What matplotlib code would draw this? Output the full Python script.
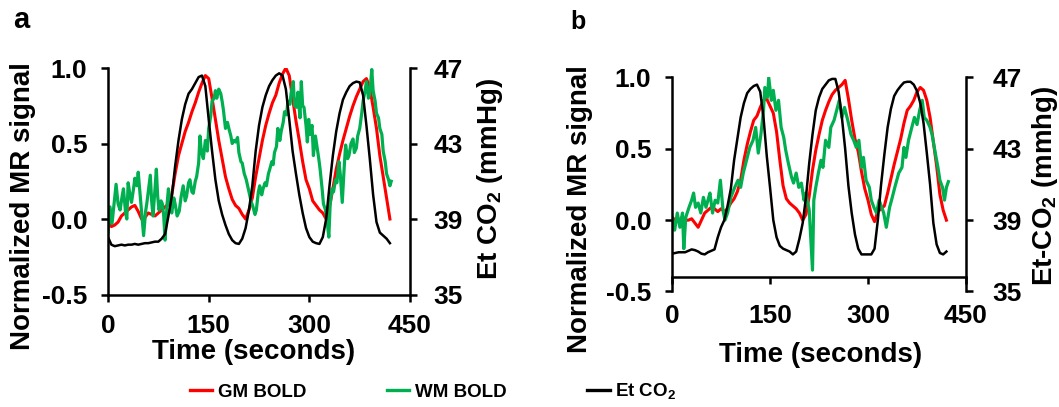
import matplotlib.pyplot as plt
from matplotlib.ticker import FormatStrFormatter

plt.rcParams["font.family"] = "Liberation Sans"
plt.rcParams["font.weight"] = "bold"
plt.rcParams["axes.unicode_minus"] = False
plt.rcParams["mathtext.fontset"] = "custom"
plt.rcParams["mathtext.rm"] = "Liberation Sans:bold"
plt.rcParams["mathtext.bf"] = "Liberation Sans:bold"

# sampling grid (seconds) for the smooth traces
time_5s = list(range(0, 425, 5))

# ---- panel a ----
gm_bold_a = [0.07, -0.05, -0.04, -0.02, 0.02, 0.04, 0.06, 0.08, 0.09, 0.05,
             0.00, 0.01, 0.04, 0.03, 0.02, 0.04, 0.06, 0.08, 0.10, 0.16,
             0.30, 0.42, 0.50, 0.58, 0.64, 0.71, 0.77, 0.84, 0.90, 0.95,
             0.93, 0.80, 0.66, 0.52, 0.40, 0.28, 0.20, 0.13, 0.09, 0.07,
             0.03, 0.00, 0.06, 0.14, 0.28, 0.40, 0.52, 0.62, 0.70, 0.77,
             0.82, 0.90, 0.96, 1.00, 0.95, 0.80, 0.65, 0.52, 0.38, 0.26,
             0.20, 0.12, 0.09, 0.06, 0.04, 0.00, 0.08, 0.20, 0.33, 0.43,
             0.52, 0.60, 0.68, 0.75, 0.81, 0.86, 0.91, 0.93, 0.87, 0.74,
             0.60, 0.42, 0.28, 0.14, 0.00]

wm_time_a = [0, 3, 6, 9, 12, 15, 18, 21, 23, 26, 28, 30, 33, 35, 38, 40, 43, 45,
             48, 50, 53, 56, 58, 61, 63, 65, 67, 70, 72, 74, 76, 79, 81, 83, 85,
             88, 90, 93, 95, 98, 100, 103, 106, 109, 112, 115, 117, 120, 122,
             125, 127, 130, 132, 135, 137, 139, 142, 145, 148, 150, 153, 155,
             158, 160, 162, 165, 168, 170, 172, 175, 178, 180, 183, 185, 188,
             190, 193, 195, 198, 200, 203, 206, 208, 211, 213, 216, 219, 221,
             224, 226, 229, 231, 234, 236, 239, 241, 244, 246, 248, 251, 253,
             256, 258, 261, 263, 266, 268, 271, 273, 276, 278, 281, 283, 286,
             288, 290, 292, 295, 297, 299, 301, 304, 306, 309, 311, 314, 316,
             319, 321, 324, 326, 329, 331, 334, 336, 339, 341, 344, 346, 349,
             352, 354, 357, 359, 362, 365, 367, 370, 372, 375, 378, 380, 383,
             385, 388, 390, 393, 395, 398, 400, 403, 405, 408, 410, 413, 415,
             418, 420, 422]
wm_bold_a = [-0.09, 0.08, -0.03, 0.10, 0.23, 0.10, 0.06, 0.15, 0.20, 0.05, 0.00,
             0.24, 0.15, 0.11, 0.20, 0.27, 0.22, 0.31, 0.15, 0.04, -0.11, 0.05,
             0.11, 0.22, 0.29, 0.12, 0.02, 0.20, 0.33, 0.15, 0.06, 0.12, 0.10,
             0.02, -0.14, 0.10, 0.20, 0.08, 0.04, 0.14, 0.10, 0.02, 0.05, 0.15,
             0.22, 0.12, 0.15, 0.24, 0.26, 0.18, 0.17, 0.25, 0.28, 0.37, 0.55,
             0.45, 0.40, 0.52, 0.45, 0.60, 0.68, 0.78, 0.80, 0.85, 0.80, 0.86,
             0.83, 0.78, 0.72, 0.60, 0.64, 0.60, 0.55, 0.50, 0.52, 0.51, 0.54,
             0.44, 0.38, 0.37, 0.30, 0.26, 0.22, 0.16, 0.12, 0.08, 0.03, 0.06,
             0.18, 0.22, 0.16, 0.20, 0.24, 0.22, 0.30, 0.33, 0.38, 0.36, 0.44,
             0.48, 0.60, 0.52, 0.58, 0.64, 0.71, 0.69, 0.78, 0.76, 0.84, 0.91,
             0.75, 0.74, 0.84, 0.67, 0.91, 0.75, 0.74, 0.62, 0.51, 0.66, 0.56,
             0.62, 0.42, 0.55, 0.49, 0.40, 0.33, 0.20, 0.10, 0.06, 0.00, -0.12,
             0.10, 0.20, 0.18, 0.26, 0.24, 0.38, 0.30, 0.11, 0.35, 0.49, 0.40,
             0.42, 0.50, 0.53, 0.44, 0.47, 0.55, 0.60, 0.70, 0.78, 0.85, 0.91,
             0.80, 0.83, 0.99, 0.85, 0.78, 0.70, 0.67, 0.60, 0.56, 0.45, 0.38,
             0.30, 0.26, 0.22, 0.25]

et_co2_a = [38.04, 37.64, 37.56, 37.60, 37.64, 37.60, 37.64, 37.64, 37.68, 37.64,
            37.68, 37.72, 37.72, 37.76, 37.80, 37.80, 37.96, 38.20, 39.16, 40.20,
            41.80, 43.16, 44.28, 45.08, 45.64, 45.88, 46.20, 46.52, 46.60, 46.04,
            44.28, 42.60, 41.08, 39.96, 39.24, 38.68, 38.20, 37.88, 37.72, 37.68,
            37.96, 38.52, 39.48, 40.76, 42.60, 43.96, 44.92, 45.56, 46.04, 46.36,
            46.60, 46.72, 46.60, 45.88, 44.28, 42.60, 41.40, 40.28, 39.32, 38.52,
            38.04, 37.80, 37.72, 37.68, 38.04, 39.00, 40.76, 42.36, 43.64, 44.60,
            45.32, 45.72, 46.04, 46.20, 46.28, 46.24, 45.56, 43.96, 42.20, 40.28,
            38.84, 38.28, 38.12, 37.96, 37.72]

# ---- panel b ----
gm_bold_b = [0.02, 0.00, -0.01, 0.02, 0.00, 0.00, 0.01, -0.02, -0.05, 0.00,
             0.05, 0.07, 0.09, 0.08, 0.06, 0.08, 0.06, 0.08, 0.12, 0.15,
             0.20, 0.28, 0.42, 0.53, 0.62, 0.70, 0.73, 0.79, 0.84, 0.85,
             0.80, 0.75, 0.62, 0.42, 0.24, 0.15, 0.12, 0.10, 0.08, 0.05,
             0.00, 0.04, 0.17, 0.35, 0.49, 0.60, 0.70, 0.77, 0.83, 0.88,
             0.91, 0.93, 0.95, 0.98, 0.85, 0.70, 0.57, 0.48, 0.34, 0.22,
             0.14, 0.04, -0.01, 0.06, 0.08, 0.10, 0.19, 0.29, 0.39, 0.48,
             0.57, 0.68, 0.77, 0.80, 0.84, 0.90, 0.93, 0.91, 0.84, 0.72,
             0.55, 0.38, 0.18, 0.07, 0.00]

wm_time_b = [0, 4, 8, 12, 16, 18, 21, 26, 30, 33, 36, 40, 44, 48, 52, 55, 58, 62,
             66, 70, 74, 78, 81, 85, 90, 96, 101, 105, 109, 114, 119, 124, 128,
             132, 136, 140, 142, 146, 148, 152, 155, 159, 163, 167, 171, 174,
             178, 183, 186, 190, 194, 198, 202, 205, 210, 215, 217, 220, 224,
             228, 231, 235, 240, 243, 248, 252, 256, 260, 264, 269, 274, 278,
             282, 286, 290, 293, 297, 302, 305, 309, 313, 317, 321, 324, 328,
             333, 336, 341, 347, 352, 355, 358, 362, 367, 371, 375, 379, 383,
             386, 390, 395, 398, 403, 407, 410, 414, 417, 420, 423]
wm_bold_b = [0.02, -0.07, 0.05, -0.05, 0.05, -0.20, 0.02, 0.09, 0.14, 0.19, 0.09,
             0.12, 0.05, 0.16, 0.09, 0.14, 0.19, 0.05, 0.14, 0.12, 0.28, 0.07,
             0.00, 0.05, 0.16, 0.23, 0.28, 0.23, 0.33, 0.42, 0.51, 0.56, 0.65,
             0.47, 0.60, 0.77, 0.93, 0.86, 1.00, 0.84, 0.91, 0.77, 0.84, 0.65,
             0.58, 0.49, 0.40, 0.30, 0.26, 0.33, 0.23, 0.26, 0.14, 0.19, 0.07,
             -0.35, 0.14, 0.23, 0.33, 0.42, 0.37, 0.56, 0.51, 0.65, 0.70, 0.77,
             0.84, 0.72, 0.79, 0.70, 0.60, 0.56, 0.51, 0.56, 0.37, 0.44, 0.28,
             0.23, 0.14, 0.09, 0.05, 0.14, 0.09, 0.05, -0.05, 0.09, 0.14, 0.23,
             0.33, 0.37, 0.51, 0.44, 0.56, 0.65, 0.72, 0.67, 0.77, 0.84, 0.72,
             0.70, 0.65, 0.60, 0.47, 0.37, 0.28, 0.23, 0.14, 0.23, 0.27]

et_co2_b = [37.12, 37.16, 37.20, 37.20, 37.20, 37.28, 37.36, 37.32, 37.24, 37.12,
            37.08, 37.20, 37.28, 37.36, 38.04, 38.60, 39.00, 39.80, 40.76, 42.36,
            43.56, 44.76, 45.56, 46.12, 46.36, 46.52, 46.60, 46.20, 44.76, 42.60,
            40.84, 39.00, 38.04, 37.56, 37.40, 37.32, 37.24, 37.08, 37.24, 37.96,
            38.84, 40.28, 42.20, 43.80, 45.16, 45.88, 46.36, 46.60, 46.84, 46.92,
            46.92, 46.20, 44.76, 43.00, 40.92, 39.40, 38.20, 37.40, 37.08, 37.08,
            37.08, 37.08, 37.40, 39.00, 41.00, 42.68, 44.20, 45.24, 45.96, 46.28,
            46.52, 46.72, 46.76, 46.76, 46.60, 46.24, 45.56, 44.44, 42.76, 41.00,
            38.84, 37.64, 37.16, 37.08, 37.24]

x_ticks = [0, 150, 300, 450]
mr_ticks = [-0.5, 0.0, 0.5, 1.0]
co2_ticks = [35, 39, 43, 47]

RED = "#ff0000"
GREEN = "#00b050"


def draw_panel(ax, gm, wm_t, wm, co2, co2_label, xaxis_at, xpad, ypad, rpad,
               lab_pos, rlab_pos, xlab_pos):
    ax.plot(time_5s, gm, color=RED, lw=2.2, label="GM BOLD")
    ax.plot(wm_t, wm, color=GREEN, lw=2.3, label="WM BOLD")
    ax.set_xlim(0, 450)
    ax.set_ylim(-0.5, 1.0)
    ax.set_xticks(x_ticks)
    ax.set_yticks(mr_ticks)
    ax.yaxis.set_major_formatter(FormatStrFormatter("%.1f"))
    for s in ["top", "right"]:
        ax.spines[s].set_visible(False)
    ax.spines["bottom"].set_position(("data", xaxis_at))
    for s in ["left", "bottom"]:
        ax.spines[s].set_linewidth(1.8)
    ax.tick_params(axis="both", direction="out", length=5, width=1.8,
                   labelsize=19)
    ax.tick_params(axis="x", pad=xpad)
    ax.tick_params(axis="y", pad=ypad)
    ax.set_xlabel("Time (seconds)", fontsize=20, fontweight="bold")
    ax.xaxis.set_label_coords(*xlab_pos)
    ax.set_ylabel("Normalized MR signal", fontsize=20, fontweight="bold")
    ax.yaxis.set_label_coords(*lab_pos)

    ax2 = ax.twinx()
    ax2.plot(time_5s, co2, color="black", lw=1.8, label="Et CO$_\\mathbf{2}$")
    ax2.set_ylim(35, 47)
    ax2.set_yticks(co2_ticks)
    for s in ["top", "bottom", "left"]:
        ax2.spines[s].set_visible(False)
    ax2.spines["right"].set_linewidth(1.8)
    ax2.tick_params(axis="y", direction="out", length=5, width=1.8,
                    labelsize=19, pad=rpad)
    ax2.set_ylabel(co2_label, fontsize=20, fontweight="bold")
    ax2.yaxis.set_label_coords(*rlab_pos)
    return ax2


fig = plt.figure(figsize=(10.59, 4.07), dpi=100)
ax_a = fig.add_axes([0.102, 0.2764, 0.2852, 0.5565])
ax_b = fig.add_axes([0.6346, 0.2838, 0.2776, 0.5258])

ax_a2 = draw_panel(ax_a, gm_bold_a, wm_time_a, wm_bold_a, et_co2_a,
                   "Et CO$_\\mathbf{2}$ (mmHg)", -0.5, 9, 10, 12,
                   (-0.24, 0.391), (1.215, 0.51), (0.483, -0.198))
ax_b2 = draw_panel(ax_b, gm_bold_b, wm_time_b, wm_bold_b, et_co2_b,
                   "Et-CO$_\\mathbf{2}$ (mmhg)", -0.4, 14, 10, 14,
                   (-0.27, 0.387), (1.217, 0.493), (0.506, -0.238))

fig.text(13 / 1059, 1 - 28 / 407, "a", fontsize=21, fontweight="bold",
         ha="left", va="baseline")
fig.text(570 / 1059, 1 - 29 / 407, "b", fontsize=18, fontweight="bold",
         ha="left", va="baseline")

handles = ax_a.get_lines() + ax_a2.get_lines()
labels = [h.get_label() for h in handles]
leg = fig.legend(handles, labels, loc="center", bbox_to_anchor=(0.409, 0.037),
                 ncol=3, frameon=False, fontsize=13.5, handlelength=1.2,
                 handletextpad=0.3, columnspacing=4.3)
for line in leg.get_lines():
    line.set_linewidth(2.4)

fig.savefig("out.png", dpi=100)
